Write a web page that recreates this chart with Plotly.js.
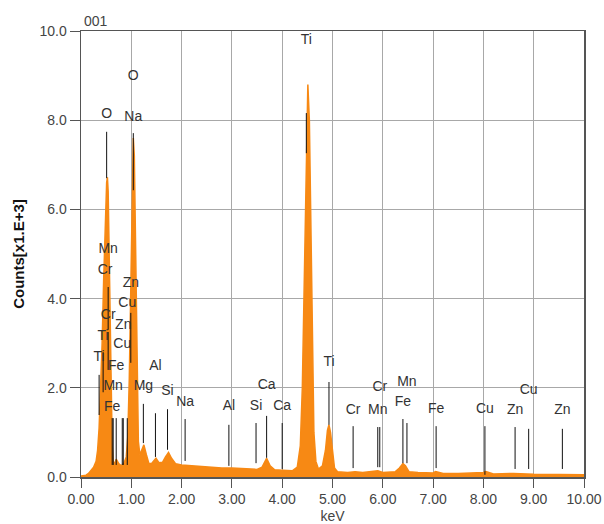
<!DOCTYPE html>
<html><head><meta charset="utf-8">
<script src="https://cdn.plot.ly/plotly-3.0.1.min.js"></script>
<style>html,body{margin:0;padding:0;background:#fff}#chart{width:604px;height:524px}</style>
</head><body><div id="chart"></div>
<script>
// Spectrum (keV, counts x1000)
const energy = [0.00,0.10,0.15,0.20,0.25,0.30,0.33,0.36,0.39,0.42,0.45,0.48,0.51,0.525,0.54,0.56,0.58,0.60,0.62,0.64,0.67,0.70,0.75,0.80,0.85,0.90,0.93,0.96,0.99,1.02,1.04,1.06,1.08,1.10,1.12,1.14,1.17,1.20,1.25,1.30,1.35,1.40,1.45,1.49,1.55,1.62,1.68,1.74,1.80,1.88,2.00,2.20,2.50,2.80,3.00,3.30,3.50,3.60,3.69,3.76,3.85,4.00,4.20,4.30,4.36,4.40,4.44,4.48,4.51,4.54,4.57,4.60,4.63,4.67,4.72,4.80,4.86,4.90,4.93,4.96,5.00,5.04,5.10,5.30,5.45,5.60,5.90,6.00,6.25,6.33,6.40,6.45,6.52,6.70,7.00,7.05,7.20,7.50,8.00,8.05,8.20,8.60,9.00,9.50,10.00];
const counts = [0.02,0.04,0.08,0.14,0.22,0.35,0.6,1.1,1.9,3.0,4.4,5.8,6.6,6.72,6.4,5.0,3.2,1.6,0.7,0.35,0.3,0.4,0.3,0.25,0.3,0.45,0.9,2.2,4.5,6.8,7.6,7.2,5.5,3.4,1.7,0.8,0.5,0.6,0.72,0.5,0.3,0.3,0.38,0.42,0.32,0.33,0.45,0.55,0.42,0.3,0.27,0.25,0.23,0.2,0.2,0.18,0.17,0.22,0.42,0.25,0.16,0.15,0.14,0.22,0.7,2.0,4.6,7.6,8.8,8.0,5.6,2.8,1.0,0.35,0.18,0.25,0.6,1.05,1.17,1.0,0.55,0.2,0.12,0.1,0.12,0.1,0.14,0.1,0.12,0.2,0.3,0.25,0.12,0.1,0.09,0.12,0.08,0.08,0.1,0.12,0.07,0.08,0.06,0.05,0.05];

// Element markers
const markerLabel  = ["O","O","Na","Mn","Cr","Zn","Cu","Cr","Zn","Ti","Cu","Ti","Fe","Mn","Fe","Mg","Al","Si","Na","Al","Si","Ca","Ca","Ti","Ti","Cr","Cr","Mn","Fe","Mn","Fe","Cu","Zn","Cu","Zn"];
const markerEnergy = [0.51,1.04,1.04,0.54,0.48,0.99,0.92,0.54,0.84,0.44,0.82,0.36,0.70,0.64,0.62,1.24,1.48,1.72,2.07,2.94,3.48,3.69,4.00,4.48,4.93,5.41,5.94,5.90,6.40,6.48,7.06,8.03,8.63,8.90,9.57];
const markerLevel  = [8.12,8.97,8.07,5.11,4.62,4.33,3.88,3.61,3.39,3.14,2.96,2.69,2.47,2.02,1.55,2.02,2.47,1.91,1.66,1.57,1.57,2.06,1.57,9.78,2.56,1.50,2.00,1.50,1.66,2.13,1.52,1.52,1.50,1.95,1.48];
const lineTop      = [7.74,null,7.71,4.26,null,3.68,1.32,3.25,1.32,2.80,1.32,2.29,1.32,1.32,1.32,1.64,1.43,1.52,1.30,1.17,1.21,1.37,1.21,8.16,2.13,1.14,1.12,1.12,1.30,1.21,1.14,1.14,1.12,1.08,1.08];
const lineBottom   = [6.70,null,6.43,3.30,null,2.56,0.27,2.40,0.27,1.90,0.27,1.39,0.27,0.27,0.27,0.76,0.45,0.61,0.36,0.25,0.31,0.43,0.18,7.26,1.17,0.20,0.22,0.22,0.31,0.31,0.20,0.05,0.18,0.18,0.18];

const xTicks = [0,1,2,3,4,5,6,7,8,9,10];
const xTickText = ["0.00","1.00","2.00","3.00","4.00","5.00","6.00","7.00","8.00","9.00","10.00"];
const yTicks = [0,2,4,6,8,10];
const yTickText = ["0.0","2.0","4.0","6.0","8.0","10.0"];

const lx = [], ly = [];
markerEnergy.forEach((e,i)=>{
  if (lineTop[i] === null) return;
  lx.push(e, e, null); ly.push(lineTop[i], lineBottom[i], null);
});

const traces = [
  {x: energy, y: counts, type:'scatter', mode:'lines', fill:'tozeroy',
   line:{color:'rgb(247,137,20)', width:1.5}, fillcolor:'rgb(247,137,20)', hoverinfo:'skip'},
  {x: lx, y: ly, type:'scatter', mode:'lines', line:{color:'#111', width:1}, hoverinfo:'skip'},
  {x: markerEnergy, y: markerLevel, type:'scatter', mode:'text', text: markerLabel,
   textposition:'middle center', textfont:{family:'Liberation Sans, Arial', size:14, color:'#333'}, hoverinfo:'skip'}
];

const layout = {
  width:604, height:524, showlegend:false,
  margin:{l:81, r:20, t:31, b:47},
  paper_bgcolor:'#fff', plot_bgcolor:'#fff',
  font:{family:'Liberation Sans, Arial', size:14, color:'#444'},
  xaxis:{range:[0,10], tickvals:xTicks, ticktext:xTickText, ticks:'outside', ticklen:9, tickcolor:'#555',
    showgrid:true, gridcolor:'#a8a8a8', gridwidth:1, zeroline:false,
    showline:true, linecolor:'#555', linewidth:1.5, mirror:true,
    title:{text:'keV', standoff:7, font:{size:14, color:'#444'}}},
  yaxis:{range:[0,10], tickvals:yTicks, ticktext:yTickText, ticks:'outside', ticklen:10, tickcolor:'#555',
    showgrid:true, gridcolor:'#a8a8a8', gridwidth:1, zeroline:false,
    showline:true, linecolor:'#555', linewidth:1.5, mirror:true,
    title:{text:'<b>Counts[x1.E+3]</b>', standoff:11, font:{size:15, color:'#111'}}},
  annotations:[{text:'001', xref:'paper', yref:'paper', x:0, y:1, xanchor:'left', yanchor:'bottom',
    showarrow:false, font:{size:14, color:'#444'}, xshift:1}]
};
Plotly.newPlot('chart', traces, layout, {staticPlot:true, displayModeBar:false});
</script></body></html>
